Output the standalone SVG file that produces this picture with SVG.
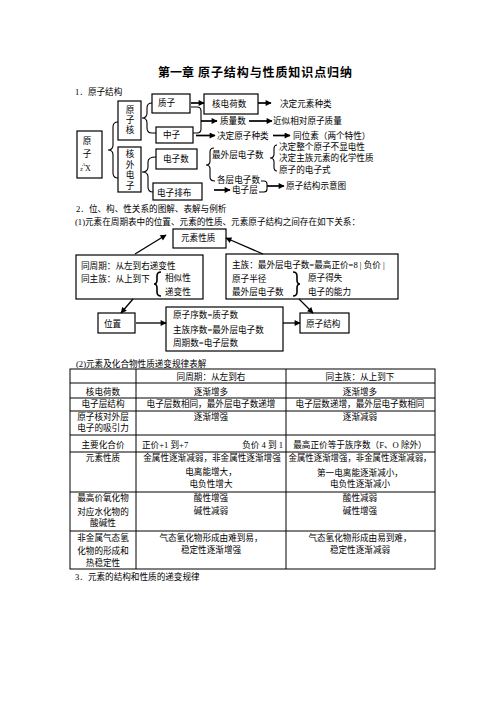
<svg xmlns="http://www.w3.org/2000/svg" width="496" height="702" viewBox="0 0 496 702">
<style>
.t{font-family:"Liberation Serif","Noto Sans CJK SC",serif;font-size:8.6px;fill:#000}
.c{text-anchor:middle}
.ttl{font-family:"Liberation Serif","Noto Sans CJK SC",serif;font-size:12px;font-weight:bold;fill:#000}
.box{fill:none;stroke:#000;stroke-width:1.2}
.br{fill:none;stroke:#000;stroke-width:1.1}
.a1{fill:none;stroke:#000;stroke-width:1.7;marker-end:url(#ah)}
.a2{fill:none;stroke:#000;stroke-width:1.3;marker-end:url(#ah2)}
.tb{fill:none;stroke:#000;stroke-width:1}
</style>
<defs>
<marker id="ah" viewBox="0 0 10 10" refX="9" refY="5" markerWidth="7" markerHeight="6" markerUnits="userSpaceOnUse" orient="auto"><path d="M0,0 L10,5 L0,10 z" fill="#000"/></marker>
<marker id="ah2" viewBox="0 0 10 10" refX="9" refY="5" markerWidth="7" markerHeight="6" markerUnits="userSpaceOnUse" orient="auto"><path d="M0,0 L10,5 L0,10 z" fill="#000"/></marker>
</defs>
<rect width="496" height="702" fill="#fff"/>

<text class="ttl" y="77"><tspan x="158">第一章</tspan><tspan x="198" textLength="154" lengthAdjust="spacing">原子结构与性质知识点归纳</tspan></text>
<text class="t" x="75" y="95">1．原子结构</text>

<g id="atom"><rect class="box" x="77" y="131" width="25" height="47"/>
<text class="t c" x="87" y="144">原</text><text class="t c" x="87" y="157">子</text>
<text class="t" y="171"><tspan x="80" font-size="5">Z</tspan><tspan x="82" y="166" font-size="5">A</tspan><tspan x="85" y="171" font-size="8">X</tspan></text></g>
<g id="nucleus"><rect class="box" x="118" y="101" width="23" height="39"/>
<text class="t c" x="130" y="113">原</text><text class="t c" x="130" y="123">子</text><text class="t c" x="130" y="133">核</text></g>
<g id="electrons"><rect class="box" x="118" y="147" width="23" height="45"/>
<text class="t c" x="130" y="157">核</text><text class="t c" x="130" y="168">外</text><text class="t c" x="130" y="178">电</text><text class="t c" x="130" y="189">子</text></g>
<g id="proton"><rect class="box" x="152" y="94" width="38" height="19"/><text class="t" x="158" y="106">质子</text></g>
<g id="neutron"><rect class="box" x="156" y="127" width="37" height="16"/><text class="t" x="163" y="138">中子</text></g>
<g id="enum"><rect class="box" x="156" y="149" width="41" height="20"/><text class="t" x="163" y="162">电子数</text></g>
<g id="econf"><rect class="box" x="153" y="183" width="49" height="17"/><text class="t" x="157" y="196">电子排布</text></g>
<g id="charge"><rect class="box" x="204" y="94" width="54" height="20"/><text class="t" x="212" y="107">核电荷数</text></g>
<g id="labels1">
<text class="t" x="280" y="107">决定元素种类</text>
<text class="t" x="220" y="124">质量数</text>
<text class="t" x="273" y="124">近似相对原子质量</text>
<text class="t" x="217" y="139">决定原子种类</text>
<text class="t" x="293" y="139">同位素（两个特性）</text>
<text class="t" x="212" y="158">最外层电子数</text>
<text class="t" x="279" y="150">决定整个原子不显电性</text>
<text class="t" x="279" y="161">决定主族元素的化学性质</text>
<text class="t" x="279" y="173">原子的电子式</text>
<text class="t" x="217" y="183">各层电子数</text>
<text class="t" x="232" y="193">电子层</text>
<text class="t" x="286" y="189">原子结构示意图</text>
</g>

<text class="t" x="76" y="212">2．位、构、性关系的图解、表解与例析</text>
<text class="t" x="75" y="225">(1)元素在周期表中的位置、元素的性质、元素原子结构之间存在如下关系：</text>

<g id="props"><rect class="box" x="173" y="229" width="53" height="19"/><text class="t" x="181" y="241">元素性质</text></g>
<g id="leftbox"><rect class="box" x="76" y="255" width="127" height="44"/>
<text class="t" x="81" y="269">同周期：从左到右递变性</text>
<text class="t" x="81" y="282">同主族：从上到下</text>
<path d="M161,272 Q157,272 157,276 L157,280 Q157,284 154,284 Q157,284 157,288 L157,292 Q157,296 161,296" fill="none" stroke="#000" stroke-width="1.6"/>
<text class="t" x="165" y="281">相似性</text>
<text class="t" x="165" y="295">递变性</text></g>
<g id="rightbox"><rect class="box" x="226" y="254" width="172" height="45"/>
<text class="t" x="232" y="268">主族：最外层电子数=最高正价=8 | 负价 |</text>
<text class="t" x="232" y="282">原子半径</text>
<text class="t" x="232" y="295">最外层电子数</text>
<path d="M293,272 Q297,272 297,276 L297,280 Q297,284 300,284 Q297,284 297,288 L297,292 Q297,296 293,296" fill="none" stroke="#000" stroke-width="1.6"/>
<text class="t" x="308" y="281">原子得失</text>
<text class="t" x="308" y="295">电子的能力</text></g>
<g id="position"><rect class="box" x="98" y="313" width="37" height="20"/><text class="t" x="104" y="327">位置</text></g>
<g id="middle"><rect class="box" x="166" y="307" width="117" height="44"/>
<text class="t" x="173" y="318">原子序数=质子数</text>
<text class="t" x="173" y="333">主族序数=最外层电子数</text>
<text class="t" x="173" y="346">周期数=电子层数</text></g>
<g id="structure"><rect class="box" x="300" y="313" width="49" height="20"/><text class="t" x="306" y="327">原子结构</text></g>

<g id="connectors">
<path class="br" d="M118,122 Q113,122 113,127 L113,145 Q113,150 108,150 Q113,150 113,155 L113,173 Q113,178 118,178"/>
<path class="br" d="M152,103 Q147,103 147,108 L147,113 Q147,118 142,118 Q147,118 147,123 L147,128 Q147,133 152,133 L156,133"/>
<path class="br" d="M156,157 Q148,157 148,162 L148,167 Q148,172 142,172 Q148,172 148,177 L148,187 Q148,192 153,192"/>
<path class="br" d="M214,148 Q210,148 210,152 L210,161 Q210,165 206,165 Q210,165 210,169 L210,177 Q210,181 215,181"/>
<path class="br" d="M277,145 Q274,145 274,149 L274,154 Q274,158 270,158 Q274,158 274,162 L274,167 Q274,171 277,171"/>
<path class="br" d="M191,107 L197,107 Q201,107 201,111 L201,129 Q201,133 197,133 L193,133"/>
<path class="br" d="M261,181 L264,181 Q267,181 267,184 L267,189 Q267,192 264,192 L259,192"/>
<path class="a1" d="M191,103 L204,103"/>
<path class="a1" d="M258,103 L271,103"/>
<path class="a1" d="M201,121 L217,121"/>
<path class="a1" d="M249,121 L272,121"/>
<path class="a1" d="M196,135.5 L215,135.5"/>
<path class="a1" d="M273,135.5 L290,135.5"/>
<path class="a1" d="M214,190 L230,190"/>
<path class="a1" d="M267,186 L284,186"/>
<path class="a2" d="M135,254 L166,235"/>
<path class="a2" d="M263,254 L226,238"/>
<path class="a2" d="M133,299 L121,313"/>
<path class="a2" d="M299,299 L313,313"/>
<path class="a2" d="M136,323 L166,323"/>
<path class="a2" d="M283,323 L300,323"/>
</g>

<text class="t" x="76" y="367">(2)元素及化合物性质递变规律表解</text>

<g id="table">
<rect class="tb" x="70" y="369" width="365" height="200"/>
<path class="tb" d="M136,369 V569 M286,369 V569 M70,383 H435 M70,398 H435 M70,411 H435 M70,435 H435 M70,452 H435 M70,492 H435 M70,531 H435"/>
<text class="t c" x="211" y="380">同周期：从左到右</text>
<text class="t c" x="360" y="380">同主族：从上到下</text>
<text class="t c" x="103" y="395">核电荷数</text>
<text class="t c" x="211" y="395">逐渐增多</text>
<text class="t c" x="360" y="395">逐渐增多</text>
<text class="t c" x="103" y="407">电子层结构</text>
<text class="t c" x="211" y="407">电子层数相同，最外层电子数递增</text>
<text class="t c" x="360" y="407">电子层数递增，最外层电子数相同</text>
<text class="t c" x="103" y="420">原子核对外层</text>
<text class="t c" x="103" y="431">电子的吸引力</text>
<text class="t c" x="211" y="420">逐渐增强</text>
<text class="t c" x="360" y="420">逐渐减弱</text>
<text class="t c" x="103" y="448">主要化合价</text>
<text class="t" x="142" y="448">正价+1 到+7</text>
<text class="t" x="283" y="448" text-anchor="end">负价 4 到 1</text>
<text class="t c" x="360" y="448">最高正价等于族序数（F、O 除外）</text>
<text class="t c" x="103" y="461">元素性质</text>
<text class="t c" x="212" y="461">金属性逐渐减弱，非金属性逐渐增强</text>
<text class="t c" x="211" y="475">电离能增大，</text>
<text class="t c" x="211" y="487">电负性增大</text>
<text class="t c" x="360" y="461" textLength="143" lengthAdjust="spacingAndGlyphs">金属性逐渐增强，非金属性逐渐减弱，</text>
<text class="t c" x="360" y="476">第一电离能逐渐减小，</text>
<text class="t c" x="360" y="487">电负性逐渐减小</text>
<text class="t c" x="103" y="501">最高价氧化物</text>
<text class="t c" x="103" y="515">对应水化物的</text>
<text class="t c" x="103" y="526">酸碱性</text>
<text class="t c" x="211" y="501">酸性增强</text>
<text class="t c" x="211" y="514">碱性减弱</text>
<text class="t c" x="360" y="501">酸性减弱</text>
<text class="t c" x="360" y="514">碱性增强</text>
<text class="t c" x="103" y="541">非金属气态氢</text>
<text class="t c" x="103" y="554">化物的形成和</text>
<text class="t c" x="103" y="566">热稳定性</text>
<text class="t c" x="211" y="541">气态氢化物形成由难到易，</text>
<text class="t c" x="211" y="553">稳定性逐渐增强</text>
<text class="t c" x="360" y="541">气态氢化物形成由易到难，</text>
<text class="t c" x="360" y="553">稳定性逐渐减弱</text>
</g>

<text class="t" x="75" y="580">3．元素的结构和性质的递变规律</text>
</svg>
